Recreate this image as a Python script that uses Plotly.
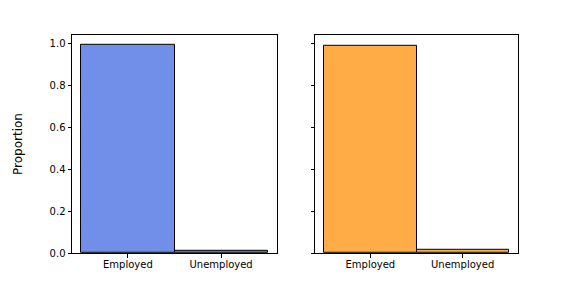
import plotly.graph_objects as go

categories = ["Employed", "Unemployed"]
left_values = [0.990, 0.012]
right_values = [0.985, 0.018]
y_ticks = [0.0, 0.2, 0.4, 0.6, 0.8, 1.0]
y_tick_labels = ["0.0", "0.2", "0.4", "0.6", "0.8", "1.0"]

OFF = 8  # page body margin
W, H = 560, 280
H_EFF = 272
fig = go.Figure()
fig.add_trace(go.Bar(x=[0, 1], y=left_values, width=1,
                     marker=dict(color="rgba(65,105,225,0.75)", line=dict(color="black", width=1)),
                     xaxis="x", yaxis="y", showlegend=False))
fig.add_trace(go.Bar(x=[0, 1], y=right_values, width=1,
                     marker=dict(color="rgba(255,140,0,0.72)", line=dict(color="black", width=1)),
                     xaxis="x2", yaxis="y2", showlegend=False))

ymax = max(max(left_values), max(right_values)) * 1.05
font = dict(family="DejaVu Sans", size=10, color="black")
common_x = dict(range=[-0.6, 1.6], tickmode="array", tickvals=[0, 1], ticktext=categories,
                showline=True, linecolor="black", linewidth=1, mirror=True, ticks="outside",
                ticklen=3.5, tickcolor="black", showgrid=False, zeroline=False, tickfont=font,
                ticklabelstandoff=-2)
common_y = dict(range=[0, ymax], tickmode="array", tickvals=y_ticks,
                showline=True, linecolor="black", linewidth=1, mirror=True, ticks="outside",
                ticklen=3.5, tickcolor="black", showgrid=False, zeroline=False, tickfont=font)

def px_x(p):
    return (p - OFF) / W

def px_y(p):
    return 1 - (p - OFF) / H_EFF

y0, y1 = px_y(250.5), px_y(34.5)
fig.update_layout(
    width=W, height=H, margin=dict(l=0, r=0, t=0, b=0),
    plot_bgcolor="white", paper_bgcolor="white", bargap=0,
    xaxis=dict(domain=[px_x(72), px_x(277)], anchor="y", **common_x),
    yaxis=dict(domain=[y0, y1], anchor="x", ticktext=y_tick_labels, **common_y),
    xaxis2=dict(domain=[px_x(315), px_x(518)], anchor="y2", **common_x),
    yaxis2=dict(domain=[y0, y1], anchor="x2", showticklabels=False, **common_y),
    annotations=[dict(text="Proportion", x=px_x(18), y=(y0 + y1) / 2, xref="paper", yref="paper",
                      textangle=-90, showarrow=False, xanchor="center", yanchor="middle",
                      font=dict(family="DejaVu Sans", size=12, color="black"))],
)
fig.write_html("out.html")
